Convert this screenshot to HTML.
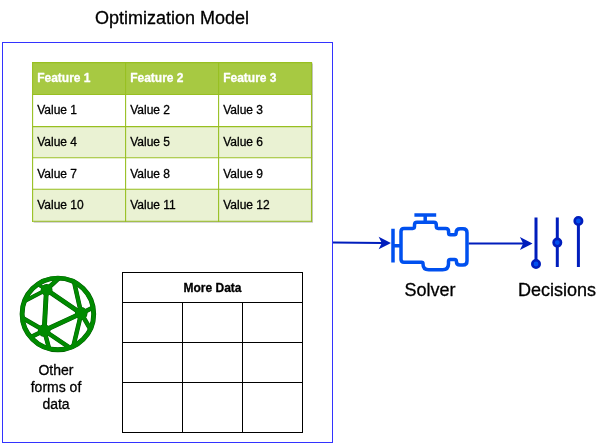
<!DOCTYPE html>
<html>
<head>
<meta charset="utf-8">
<style>
html,body{margin:0;padding:0;background:#fff;}
body{width:610px;height:445px;overflow:hidden;}
svg{display:block;position:absolute;left:0;top:0;will-change:transform;}
text{font-family:"Liberation Sans",sans-serif;stroke-width:0.3px;stroke-linejoin:round;}
text.k{stroke:#000;}
text.w{stroke:#fff;}
</style>
</head>
<body>
<svg width="610" height="445" viewBox="0 0 610 445">
<rect x="0" y="0" width="610" height="445" fill="#fff"/>
<rect x="2.5" y="42.5" width="330" height="400" fill="none" stroke="#3333ff" stroke-width="1"/>
<text x="172" y="24.3" font-size="18" text-anchor="middle" fill="#000" class="k">Optimization Model</text>
<rect x="33.6" y="63.4" width="279.4" height="159.3" fill="#c4c4c4"/>
<rect x="32.6" y="62.2" width="278.9" height="158.7" fill="#fff"/>
<rect x="32.6" y="62.2" width="278.9" height="31.89999999999999" fill="#A7C942"/>
<rect x="32.6" y="126.2" width="278.9" height="31.10000000000001" fill="#EAF2D3"/>
<rect x="32.6" y="188.9" width="278.9" height="32.0" fill="#EAF2D3"/>
<g stroke="#98bf21" stroke-width="1.1" fill="none">
<path d="M32.1 62.6 H312.1"/>
<path d="M32.1 94.5 H312.1"/>
<path d="M32.1 126.60000000000001 H312.1"/>
<path d="M32.1 157.70000000000002 H312.1"/>
<path d="M32.1 189.3 H312.1"/>
<path d="M32.1 221.3 H312.1"/>
<path d="M32.6 62.1 V221.9"/>
<path d="M125.60000000000001 62.1 V221.9"/>
<path d="M218.6 62.1 V221.9"/>
<path d="M311.5 62.1 V221.9"/>
</g>
<text x="37.20" y="82" font-size="12" font-weight="bold" fill="#fff" class="w">Feature 1</text>
<text x="130.20" y="82" font-size="12" font-weight="bold" fill="#fff" class="w">Feature 2</text>
<text x="223.20" y="82" font-size="12" font-weight="bold" fill="#fff" class="w">Feature 3</text>
<text x="37.20" y="113.9" font-size="12" fill="#000" class="k">Value 1</text>
<text x="130.20" y="113.9" font-size="12" fill="#000" class="k">Value 2</text>
<text x="223.20" y="113.9" font-size="12" fill="#000" class="k">Value 3</text>
<text x="37.20" y="145.8" font-size="12" fill="#000" class="k">Value 4</text>
<text x="130.20" y="145.8" font-size="12" fill="#000" class="k">Value 5</text>
<text x="223.20" y="145.8" font-size="12" fill="#000" class="k">Value 6</text>
<text x="37.20" y="177.5" font-size="12" fill="#000" class="k">Value 7</text>
<text x="130.20" y="177.5" font-size="12" fill="#000" class="k">Value 8</text>
<text x="223.20" y="177.5" font-size="12" fill="#000" class="k">Value 9</text>
<text x="37.20" y="209.2" font-size="12" fill="#000" class="k">Value 10</text>
<text x="130.20" y="209.2" font-size="12" fill="#000" class="k">Value 11</text>
<text x="223.20" y="209.2" font-size="12" fill="#000" class="k">Value 12</text>
<g stroke="#000" stroke-width="1" fill="none">
<rect x="122.5" y="272.5" width="180" height="160" fill="#fff"/>
<path d="M122.5 302.5 H302.5"/>
<path d="M122.5 342.5 H302.5"/>
<path d="M122.5 382.5 H302.5"/>
<path d="M182.5 302.5 V432.5"/>
<path d="M242.5 302.5 V432.5"/>
</g>
<text x="212.5" y="292" font-size="12" font-weight="bold" text-anchor="middle" fill="#000" class="k">More Data</text>
<text font-size="14" text-anchor="middle" fill="#000" class="k"><tspan x="56" y="374.7">Other</tspan><tspan x="56" y="391.6">forms of</tspan><tspan x="56" y="408.6">data</tspan></text>
<text x="430" y="296" font-size="18" text-anchor="middle" fill="#000" class="k">Solver</text>
<text x="557" y="296" font-size="18" text-anchor="middle" fill="#000" class="k">Decisions</text>
<g stroke="#005700" fill="none" stroke-linecap="butt">
<circle cx="57.9" cy="313.9" r="35.8" stroke-width="4.90"/>
<path stroke-width="4.90" d="M46.4 289.7 L81.2 313.4"/>
<path stroke-width="4.90" d="M81.2 313.4 L44.2 330.5"/>
<path stroke-width="4.90" d="M44.2 330.5 L46.4 289.7"/>
<path stroke-width="4.60" d="M46.4 289.7 L58.8 278.2"/>
<path stroke-width="3.50" d="M46.4 289.7 L37.6 284.3"/>
<path stroke-width="4.10" d="M46.4 289.7 L24 301.4"/>
<path stroke-width="4.50" d="M81.2 313.4 L74 281.5"/>
<path stroke-width="4.50" d="M81.2 313.4 L93.5 307.3"/>
<path stroke-width="4.50" d="M81.2 313.4 L90 328.5"/>
<path stroke-width="4.50" d="M81.2 313.4 L73.3 346.5"/>
<path stroke-width="4.50" d="M44.2 330.5 L23 318.2"/>
<path stroke-width="4.50" d="M44.2 330.5 L30.5 337.3"/>
<path stroke-width="4.50" d="M44.2 330.5 L49.2 349"/>
<path stroke-width="4.50" d="M44.2 330.5 L68.5 346.8"/>
</g>
<g fill="#005700" stroke="none">
<circle cx="46.6" cy="289.9" r="5.90"/><circle cx="81.2" cy="313.4" r="6.30"/><circle cx="44.2" cy="330.5" r="6.30"/>
</g>
<g stroke="#008a00" fill="none" stroke-linecap="butt">
<circle cx="57.9" cy="313.9" r="35.8" stroke-width="4.00"/>
<path stroke-width="4.00" d="M46.4 289.7 L81.2 313.4"/>
<path stroke-width="4.00" d="M81.2 313.4 L44.2 330.5"/>
<path stroke-width="4.00" d="M44.2 330.5 L46.4 289.7"/>
<path stroke-width="3.70" d="M46.4 289.7 L58.8 278.2"/>
<path stroke-width="2.60" d="M46.4 289.7 L37.6 284.3"/>
<path stroke-width="3.20" d="M46.4 289.7 L24 301.4"/>
<path stroke-width="3.60" d="M81.2 313.4 L74 281.5"/>
<path stroke-width="3.60" d="M81.2 313.4 L93.5 307.3"/>
<path stroke-width="3.60" d="M81.2 313.4 L90 328.5"/>
<path stroke-width="3.60" d="M81.2 313.4 L73.3 346.5"/>
<path stroke-width="3.60" d="M44.2 330.5 L23 318.2"/>
<path stroke-width="3.60" d="M44.2 330.5 L30.5 337.3"/>
<path stroke-width="3.60" d="M44.2 330.5 L49.2 349"/>
<path stroke-width="3.60" d="M44.2 330.5 L68.5 346.8"/>
</g>
<g fill="#008a00" stroke="none">
<circle cx="46.6" cy="289.9" r="5.45"/><circle cx="81.2" cy="313.4" r="5.85"/><circle cx="44.2" cy="330.5" r="5.85"/>
</g>
<g stroke="#001DBC" stroke-width="2" fill="#001DBC" stroke-miterlimit="10">
<path d="M333 242.4 L382.5 243" fill="none"/>
<path d="M388.7 243 L380.9 247 L382.9 243 L380.9 239 Z"/>
<path d="M468.5 243.5 L524 243.5" fill="none"/>
<path d="M530.3 243.5 L522.2 247.6 L524.3 243.5 L522.2 239.4 Z"/>
</g>
<g stroke="#0050EF" stroke-width="3.5" fill="none" stroke-linejoin="round" stroke-linecap="butt">
<path d="M393 228.8 V262.5 M393 245.8 H401"/>
<path d="M414.4 214.9 H436.2 M425.2 214.9 V222.3"/>
<path d="M401.00 231.40 Q401.00 228.40 404.00 228.40 L412.70 228.40 Q414.50 228.40 414.50 226.60 L414.50 224.80 Q414.50 222.30 417.00 222.30 L433.80 222.30 Q436.30 222.30 436.30 224.80 L436.30 226.60 Q436.30 228.40 438.10 228.40 L445.60 228.40 Q448.60 228.40 448.60 231.40 L448.60 232.90 Q448.60 234.70 450.40 234.70 L454.30 234.70 Q456.10 234.70 456.10 232.90 L456.10 232.70 Q456.10 228.70 460.10 228.70 L463.00 228.70 Q467.00 228.70 467.00 232.70 L467.00 261.10 Q467.00 265.10 463.00 265.10 L459.90 265.10 Q456.40 265.10 456.40 261.60 L456.40 261.30 Q456.40 259.50 454.60 259.50 L450.30 259.50 Q448.50 259.50 448.50 261.30 L448.50 263.80 Q448.50 269.80 442.50 269.80 L428.80 269.80 Q423.00 269.80 423.00 264.00 L423.00 263.70 Q423.00 262.20 421.50 262.20 L404.00 262.20 Q401.00 262.20 401.00 259.20 Z"/>
</g>
<g stroke="#001DBC" stroke-width="3" fill="none">
<path d="M536 217.5 V263.5 M557.3 217.5 V267 M578.4 221 V267"/>
</g>
<g stroke="#001DBC" stroke-width="2.6" fill="#0050EF">
<circle cx="536" cy="264" r="3.7"/>
<circle cx="557.3" cy="242.6" r="3.7"/>
<circle cx="578.4" cy="221" r="3.7"/>
</g>
</svg>
</body>
</html>
